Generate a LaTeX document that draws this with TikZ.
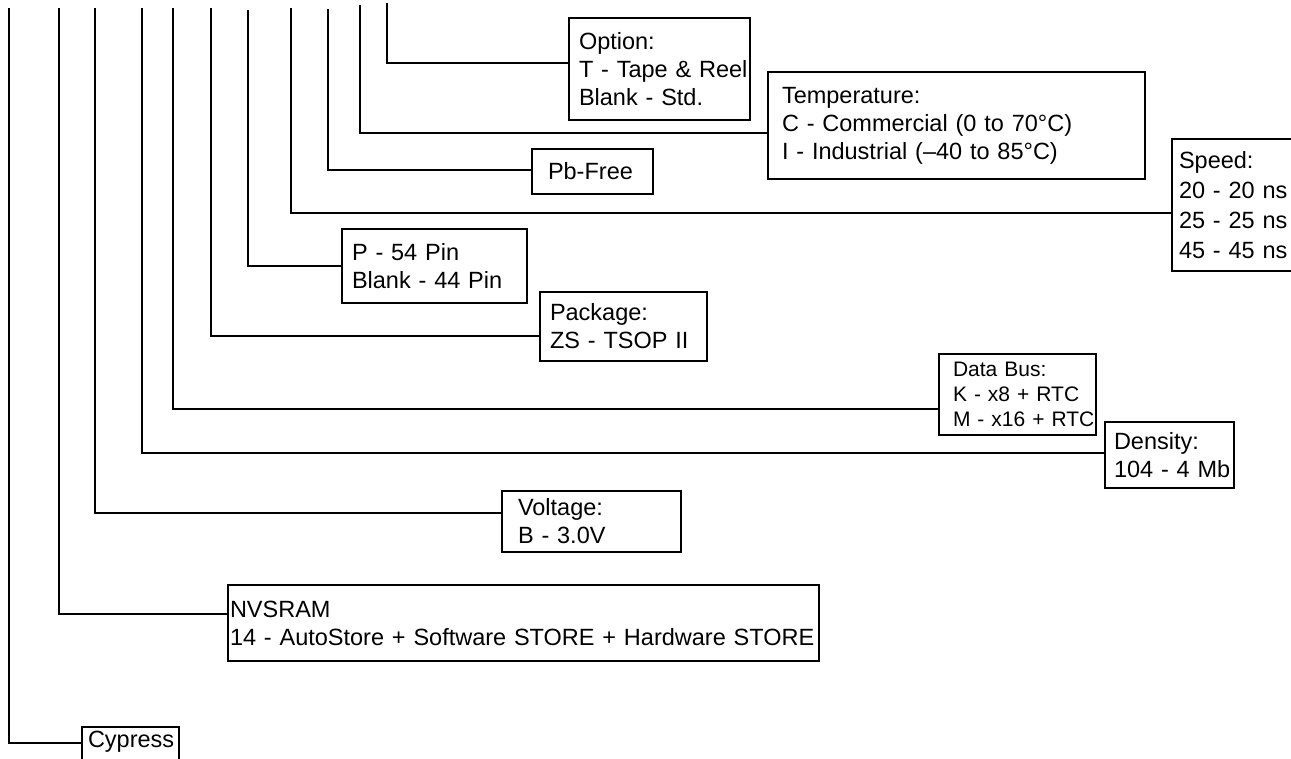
\documentclass[tikz,border=0pt]{standalone}
\usepackage{fontspec}
\setmainfont{Liberation Sans}
\usepackage{tikz}
\usetikzlibrary{positioning}
\newcommand{\partfont}{\fontsize{23.5}{28}\selectfont}
\newcommand{\busfont}{\fontsize{21}{25}\selectfont}

\begin{document}
\begin{tikzpicture}[
  x=1pt, y=-1pt,
  field/.style={draw, line width=2pt, anchor=north west, align=left, inner sep=0pt,
                font=\partfont, execute at begin node={\leftskip=#1}},
  field/.default=10pt,
  tap/.style={line width=2pt, draw=black},
]
\useasboundingbox (0,0) rectangle (1291,759);

% ---- Fields ----
\node[field=10pt, minimum height=102pt, text width=181pt] (opt) at (568,17)
     {Option:\\T - Tape \& Reel\\Blank - Std.};
\node[field=14pt, minimum height=107pt, text width=377pt] (temp) at (767,71)
     {Temperature:\\C - Commercial (0 to 70°C)\\I - Industrial (–40 to 85°C)};
\node[field=16pt, minimum height=45pt, text width=121pt] (pbfree) at (531,148)
     {Pb-Free};
\node[field=7pt, minimum height=132pt, text width=140pt] (speed) at (1171,138)
     {Speed:\\[2pt]20 - 20 ns\\[2pt]25 - 25 ns\\[2pt]45 - 45 ns};
\node[field=10pt, minimum height=74pt, text width=185pt] (pins) at (341,228)
     {P - 54 Pin\\Blank - 44 Pin};
\node[field=10pt, minimum height=69pt, text width=167pt] (pkg) at (539,291)
     {Package:\\ZS - TSOP II};
\node[field=14pt, minimum height=81pt, text width=157pt, font=\busfont] (bus) at (938,353)
     {Data Bus:\\K - x8 + RTC\\M - x16 + RTC};
\node[field=9pt, minimum height=66pt, text width=129pt] (dens) at (1104,421)
     {Density:\\104 - 4 Mb};
\node[field=16pt, minimum height=61pt, text width=179pt] (volt) at (501,490)
     {Voltage:\\B - 3.0V};
\node[field=2pt, minimum height=76pt, text width=591pt] (nvsram) at (227,584)
     {NVSRAM\\14 - AutoStore + Software STORE + Hardware STORE};
\node[field=6pt, inner ysep=3pt, text height=17pt, text depth=22pt, text width=97pt] (cypress) at (81,726)
     {Cypress};

% ---- Taps ----
\coordinate (top-cypress) at (9,8);
\coordinate (top-nvsram)  at (59,8);
\coordinate (top-volt)    at (95,8);
\coordinate (top-dens)    at (142,8);
\coordinate (top-bus)     at (173,8);
\coordinate (top-pkg)     at (211,8);
\coordinate (top-pins)    at (248,10);
\coordinate (top-speed)   at (291,8);
\coordinate (top-pbfree)  at (328,9);
\coordinate (top-temp)    at (360,5);
\coordinate (top-opt)     at (387,3);

% ---- Connectors ----
\draw[tap] (top-cypress) |- ([yshift=6.5pt]cypress.west);
\draw[tap] (top-nvsram)  |- ([yshift=9pt]nvsram.west);
\draw[tap] (top-volt)    |- ([yshift=8.5pt]volt.west);
\draw[tap] (top-dens)    |- ([yshift=2pt]dens.west);
\draw[tap] (top-bus)     |- ([yshift=-14.5pt]bus.west);
\draw[tap] (top-pkg)     |- ([yshift=-9.5pt]pkg.west);
\draw[tap] (top-pins)    |- (pins.west);
\draw[tap] (top-speed)   |- ([yshift=-8pt]speed.west);
\draw[tap] (top-pbfree)  |- ([yshift=1.5pt]pbfree.west);
\draw[tap] (top-temp)    |- ([yshift=-7.5pt]temp.west);
\draw[tap] (top-opt)     |- ([yshift=6pt]opt.west);

\end{tikzpicture}
\end{document}
